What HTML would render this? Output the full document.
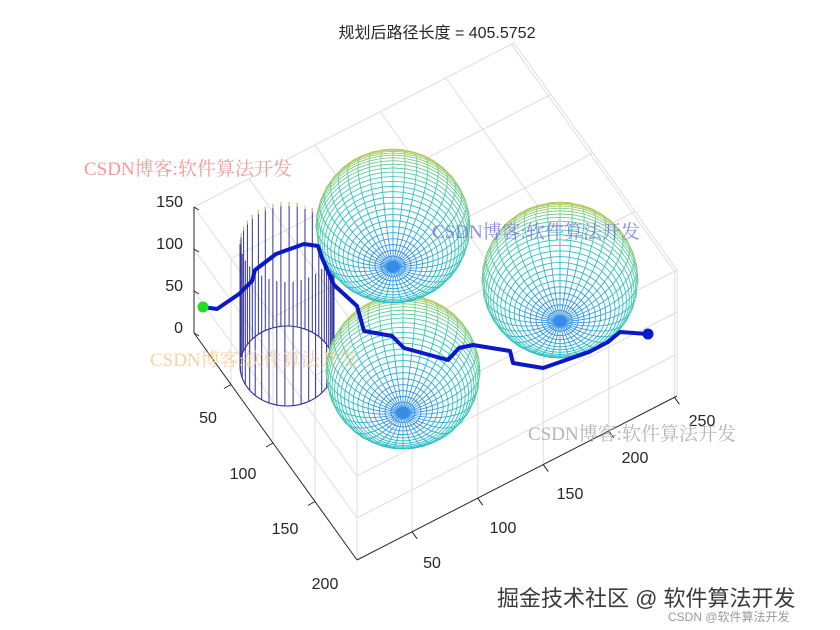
<!DOCTYPE html>
<html><head><meta charset="utf-8"><style>
html,body{margin:0;padding:0;background:#fff;}
svg{display:block;}
.t{font-family:"Liberation Sans","Noto Sans CJK SC",sans-serif;fill:#262626;font-size:16px;}
.w{font-family:"Liberation Serif","Noto Serif CJK SC",serif;font-size:19px;}
</style></head><body>
<svg id="s" width="840" height="630" viewBox="0 0 840 630" xmlns="http://www.w3.org/2000/svg">
<g id="grid" stroke="#dedede" stroke-width="1" fill="none"></g>
<g id="cyl"></g>
<g id="sph"></g>
<polyline id="path" fill="none" stroke="#0a18c8" stroke-width="4" stroke-linejoin="round" stroke-linecap="round"
points="203,307 217,309 239,294 252,281 255,270 276,254 304,244 318,246 322,258 334,285 357,306 364,331 392,336 404,348 448,360 459,348 473,345 510,351 513,363 543,368 589,352 608,342 620,332 648,334"/>
<circle cx="203" cy="307" r="5.5" fill="#22dd22"/>
<circle cx="648" cy="334" r="5.5" fill="#0a18d0"/>
<g id="axes" stroke="#262626" stroke-width="1" fill="none"></g>
<text class="t" x="437" y="38" text-anchor="middle" font-size="18">规划后路径长度 = 405.5752</text>
<g class="t" text-anchor="end">
<text x="183" y="207">150</text><text x="183" y="249">100</text><text x="183" y="291">50</text><text x="183" y="333">0</text>
</g>
<g class="t" text-anchor="middle">
<text x="208" y="423">50</text><text x="243" y="479">100</text><text x="285" y="534">150</text><text x="325" y="589">200</text>
<text x="432" y="568">50</text><text x="503" y="533">100</text><text x="570" y="499">150</text><text x="635" y="463">200</text><text x="702" y="426">250</text>
</g>
<text class="w" x="84" y="175" fill="#f08a8a" fill-opacity="0.85">CSDN博客:软件算法开发</text>
<text class="w" x="432" y="238" fill="#6e6ee0" fill-opacity="0.8">CSDN博客:软件算法开发</text>
<text class="w" x="150" y="366" fill="#f2c88a" fill-opacity="0.8">CSDN博客:软件算法开发</text>
<text class="w" x="528" y="440" fill="#a8a8a8" fill-opacity="0.85">CSDN博客:软件算法开发</text>
<text x="497" y="606" font-family="'Liberation Sans','Noto Sans CJK SC',sans-serif" font-size="22" fill="#3a3a3a">掘金技术社区 @ 软件算法开发</text>
<text x="668" y="621" font-family="'Liberation Sans','Noto Sans CJK SC',sans-serif" font-size="12" fill="#9a9a9a">CSDN @软件算法开发</text>
</svg>
<script>
var NS="http://www.w3.org/2000/svg";
function el(p,n,a){var e=document.createElementNS(NS,n);for(var k in a)e.setAttribute(k,a[k]);p.appendChild(e);return e;}
var xmin=8,xmax=252,ymin=6,ymax=200;
var O=[194,333],A=[357,560],B=[677,396];
function P(x,y,z){var fx=(x-xmin)/(xmax-xmin),fy=(y-ymin)/(ymax-ymin);
return [O[0]+fx*(B[0]-A[0])+fy*(A[0]-O[0]), O[1]+fx*(B[1]-A[1])+fy*(A[1]-O[1])-z*126/150];}
function L(g,a,b,extra){var o={x1:a[0].toFixed(1),y1:a[1].toFixed(1),x2:b[0].toFixed(1),y2:b[1].toFixed(1)};for(var k in extra)o[k]=extra[k];el(g,"line",o);}
var g=document.getElementById("grid");
var xs=[50,100,150,200,250],ys=[50,100,150,200],zs=[50,100,150];
ys.forEach(function(y){L(g,P(xmin,y,0),P(xmin,y,150));});
zs.forEach(function(z){L(g,P(xmin,ymin,z),P(xmin,ymax,z));});
xs.forEach(function(x){L(g,P(x,ymax,0),P(x,ymax,150));});
L(g,P(xmax,ymax,0),P(xmax,ymax,150));
zs.forEach(function(z){L(g,P(xmin,ymax,z),P(xmax,ymax,z));});
xs.forEach(function(x){L(g,P(x,ymin,150),P(x,ymax,150));});
L(g,P(xmax,ymin,150),P(xmax,ymax,150));
[50,100,150].forEach(function(y){L(g,P(xmin,y,150),P(xmax,y,150));});
L(g,P(xmin,ymin,150),P(xmax,ymin,150));
var ax=document.getElementById("axes");
L(ax,P(xmin,ymin,0),P(xmin,ymin,150));
L(ax,P(xmin,ymin,0),P(xmin,ymax,0));
L(ax,P(xmin,ymax,0),P(xmax,ymax,0));
[0,50,100,150].forEach(function(z){var p=P(xmin,ymin,z);L(ax,p,[p[0]+5,p[1]+3]);});
[50,100,150].forEach(function(y){var p=P(xmin,y,0);L(ax,p,[p[0]-7,p[1]+4]);});
xs.forEach(function(x){var p=P(x,ymax,0);L(ax,p,[p[0]+5,p[1]+7]);});
var cg=document.getElementById("cyl");
var cx=287,rx=47,ry=40,ty=242,by=366,N=36;
for(var i=0;i<N;i++){var t=(i+0.25)/N*2*Math.PI;var x=cx+rx*Math.cos(t),s=Math.sin(t);
 L(cg,[x,ty+ry*s],[x,by+ry*s],{stroke:"#30309a","stroke-width":"1"});
 if(s<0) L(cg,[x,ty+ry*s],[x,ty+ry*s+4],{stroke:"#e8d070","stroke-width":"1"});}
el(cg,"ellipse",{cx:cx,cy:by,rx:rx,ry:ry,fill:"none",stroke:"#30309a","stroke-width":"1.1"});
var sg=document.getElementById("sph");
var stops=[[-1,[42,138,232]],[-0.85,[32,176,208]],[-0.5,[40,196,188]],[-0.1,[90,202,150]],[0.3,[160,200,96]],[0.65,[224,192,64]],[1,[248,184,48]]];
function col(z){for(var i=0;i<stops.length-1;i++){if(z<=stops[i+1][0]){var a=stops[i],b=stops[i+1],f=(z-a[0])/(b[0]-a[0]);
 return "rgb("+[0,1,2].map(function(k){return Math.round(a[1][k]+f*(b[1][k]-a[1][k]));}).join(",")+")";}}return "rgb(248,184,48)";}
var S=0.53,C=Math.sqrt(1-S*S);
function sphere(cx,cy,r){
 el(sg,"circle",{cx:cx,cy:cy,r:r,fill:"#fff"});
 var NL=40,NM=40;
 function pt(phi,th){var x=Math.cos(phi)*Math.cos(th),y=Math.cos(phi)*Math.sin(th),z=Math.sin(phi);
  return {X:cx+r*x,Y:cy+r*(-z*S+y*C),d:-z*C-y*S,z:z};}
 var grp=el(sg,"g",{"stroke-width":"0.85",fill:"none"});
 for(var i=0;i<=NL;i++){var phi=-Math.PI/2+i*Math.PI/NL;
  for(var j=0;j<NM;j++){var a=pt(phi,j*2*Math.PI/NM),b=pt(phi,(j+1)*2*Math.PI/NM);
   if(a.d>-0.01&&b.d>-0.01)L(grp,[a.X,a.Y],[b.X,b.Y],{stroke:col(a.z)});}}
 for(var j=0;j<NM;j++){var th=j*2*Math.PI/NM;
  for(var i=0;i<NL;i++){var a=pt(-Math.PI/2+i*Math.PI/NL,th),b=pt(-Math.PI/2+(i+1)*Math.PI/NL,th);
   if(a.d>-0.01&&b.d>-0.01)L(grp,[a.X,a.Y],[b.X,b.Y],{stroke:col((a.z+b.z)/2)});}}
 el(sg,"circle",{cx:cx,cy:cy+r*S,r:r*0.08,fill:"#3a8ae8"});
}
sphere(403,372,77);
sphere(393,226,77);
sphere(560,280,78);
</script>
</body></html>
